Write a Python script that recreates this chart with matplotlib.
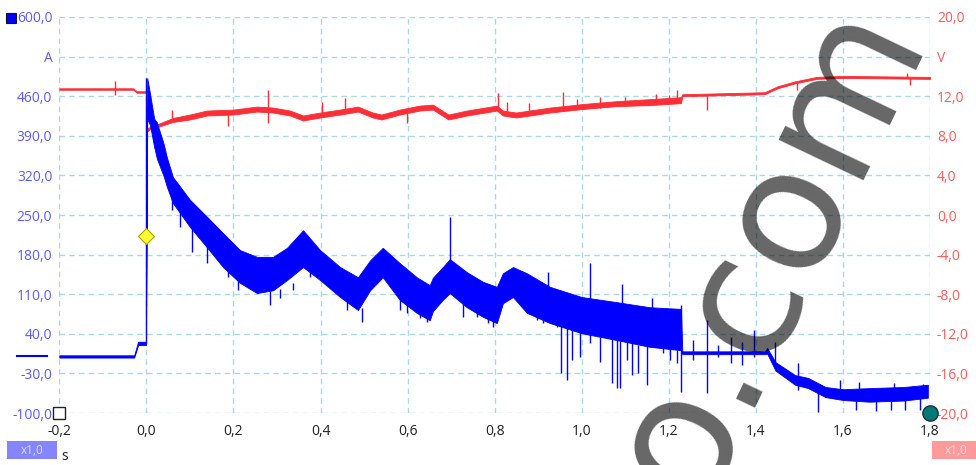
import matplotlib
matplotlib.use("Agg")
import matplotlib.pyplot as plt
from matplotlib.patches import Rectangle
from matplotlib.transforms import blended_transform_factory

# ---------------------------------------------------------------------------
# Channel A: current (A), drawn as min/max envelope of the captured trace
# ---------------------------------------------------------------------------
amp_t = [-0.200, -0.028, -0.019, -0.001, 0.002, 0.008, 0.018, 0.024, 0.040,
         0.047, 0.061, 0.100, 0.139, 0.176, 0.215, 0.254, 0.291, 0.323,
         0.360, 0.399, 0.445, 0.486, 0.514, 0.543, 0.582, 0.621, 0.651,
         0.658, 0.681, 0.697, 0.736, 0.773, 0.805, 0.819, 0.842, 0.874,
         0.927, 1.000, 1.080, 1.156, 1.228, 1.231, 1.421, 1.426, 1.445,
         1.490, 1.520, 1.560, 1.600, 1.660, 1.740, 1.795]
amp_hi = [2, 2, 26, 26, 492, 466, 420, 414, 375,
          352, 317, 277, 247, 218, 188, 176, 176, 192,
          223, 188, 158, 140, 170, 192, 165, 140, 126,
          139, 158, 172, 149, 132, 123, 147, 158, 147,
          123, 105, 96, 87, 84, 9, 9, 15, -10,
          -33, -38, -54, -58, -56, -54, -50]
amp_lo = [-2, -2, 20, 20, 420, 410, 370, 350, 318,
          300, 271, 229, 193, 158, 130, 112, 117, 135,
          158, 135, 105, 82, 117, 140, 100, 77, 64,
          80, 100, 112, 87, 70, 59, 94, 105, 77,
          59, 41, 29, 17, 11, 4, 4, 5, -25,
          -50, -56, -72, -77, -80, -78, -73]

# single-sample glitches: time, bottom, top
amp_spike_t = [0.000, 0.059, 0.077, 0.105, 0.139, 0.187, 0.210, 0.284, 0.307,
               0.337, 0.376, 0.461, 0.495, 0.582, 0.598, 0.628, 0.644, 0.698,
               0.727, 0.759, 0.784, 0.796, 0.897, 0.911, 0.922, 0.943, 0.952,
               0.966, 0.977, 0.995, 1.018, 1.042, 1.069, 1.081, 1.088, 1.092,
               1.104, 1.115, 1.129, 1.149, 1.161, 1.172, 1.186, 1.202, 1.218,
               1.229, 1.255, 1.287, 1.314, 1.342, 1.369, 1.395, 1.445, 1.496,
               1.542, 1.593, 1.629, 1.638, 1.677, 1.710, 1.717, 1.742, 1.777,
               1.783]
amp_spike_lo = [23, 259, 229, 185, 165, 140, 117, 91, 103,
                117, 140, 82, 61, 82, 77, 68, 61, 150,
                70, 70, 59, 52, 64, 59, 120, 52, -29,
                -42, -6, -1, 24, -10, -47, -56, -56, 90,
                -6, -33, -29, -50, 80, 17, 6, -6, -12,
                -63, -6, -65, -1, -12, -15, -1, -20, -59,
                -98, -70, -95, -70, -97, -95, -70, -95, -95,
                -70]
amp_spike_hi = [492, 280, 262, 228, 195, 160, 135, 115, 120,
                130, 150, 100, 85, 100, 95, 80, 70, 246,
                95, 80, 70, 65, 70, 68, 149, 60, 55,
                50, 50, 45, 165, 35, 30, 30, 30, 128,
                25, 25, 20, 20, 103, 20, 15, 15, 12,
                91, 29, 64, 20, 34, 25, 47, 25, -12,
                -60, -42, -70, -45, -75, -75, -47, -75, -72,
                -48]

# ---------------------------------------------------------------------------
# Channel B: voltage (V)
# ---------------------------------------------------------------------------
volt_t = [-0.200, -0.030, -0.022, -0.001, 0.002, 0.008, 0.030, 0.061, 0.100,
          0.139, 0.200, 0.254, 0.291, 0.330, 0.360, 0.399, 0.445, 0.486,
          0.520, 0.540, 0.582, 0.628, 0.658, 0.694, 0.736, 0.805, 0.819,
          0.849, 0.927, 1.000, 1.080, 1.156, 1.228, 1.231, 1.420, 1.450,
          1.490, 1.540, 1.600, 1.800]
volt_hi = [12.8, 12.8, 12.5, 12.5, 8.7, 8.9, 9.25, 9.8, 10.15,
           10.55, 10.65, 10.95, 10.85, 10.55, 10.05, 10.35, 10.65, 10.95,
           10.35, 10.15, 10.65, 11.05, 11.15, 10.15, 10.55, 11.05, 10.55,
           10.35, 10.85, 11.2, 11.5, 11.7, 11.9, 12.2, 12.4, 13.0,
           13.5, 13.95, 14.05, 13.95]
volt_lo = [12.65, 12.65, 12.35, 12.35, 8.45, 8.65, 8.95, 9.4, 9.65,
           10.05, 10.15, 10.45, 10.35, 10.05, 9.55, 9.85, 10.15, 10.45,
           9.85, 9.65, 10.15, 10.55, 10.65, 9.65, 10.05, 10.55, 10.05,
           9.85, 10.35, 10.7, 11.0, 11.1, 11.3, 12.0, 12.2, 12.8,
           13.3, 13.75, 13.85, 13.75]

volt_spike_t = [-0.072, 0.059, 0.187, 0.279, 0.403, 0.456, 0.598, 0.808,
                0.828, 0.880, 0.957, 0.990, 1.042, 1.100, 1.170, 1.200,
                1.218, 1.287, 1.494, 1.748, 1.753]
volt_spike_lo = [12.1, 9.6, 9.0, 9.3, 10.0, 10.2, 9.3, 10.6,
                 10.2, 10.5, 10.5, 10.8, 10.8, 11.0, 11.2, 11.3,
                 11.3, 10.6, 12.6, 13.8, 13.1]
volt_spike_hi = [13.5, 10.6, 10.4, 12.6, 11.4, 11.8, 10.4, 12.3,
                 11.4, 11.3, 12.4, 11.7, 11.9, 11.9, 12.2, 12.1,
                 12.6, 12.2, 13.3, 14.3, 13.8]

# ---------------------------------------------------------------------------
# Axis scales
# ---------------------------------------------------------------------------
time_ticks = [-0.2, 0.0, 0.2, 0.4, 0.6, 0.8, 1.0, 1.2, 1.4, 1.6, 1.8]
time_labels = ["-0,2", "0,0", "0,2", "0,4", "0,6", "0,8", "1,0", "1,2",
               "1,4", "1,6", "1,8"]
amp_ticks = [600, 530, 460, 390, 320, 250, 180, 110, 40, -30, -100]
amp_labels = ["600,0", "A", "460,0", "390,0", "320,0", "250,0", "180,0",
              "110,0", "40,0", "-30,0", "-100,0"]
volt_ticks = [20, 16, 12, 8, 4, 0, -4, -8, -12, -16, -20]
volt_labels = ["20,0", "V", "12,0", "8,0", "4,0", "0,0", "-4,0", "-8,0",
               "-12,0", "-16,0", "-20,0"]
trigger_amp = 213

# ---------------------------------------------------------------------------
# Theme
# ---------------------------------------------------------------------------
_BLUE = "#0000ff"
_RED = "#ff2d36"
_GRID = "#a9d8e6"
_ALABEL = "#5b5bff"
_VLABEL = "#ff5a5a"
_TLABEL = "#202020"

plt.rcParams["font.family"] = ["Open Sans", "DejaVu Sans"]

W, H = 976, 465
x0, x1, y0, y1 = 59.3, 930, 17, 413
rect = [x0 / W, 1 - y1 / H, (x1 - x0) / W, (y1 - y0) / H]

fig = plt.figure(figsize=(W / 100, H / 100), dpi=100)
fig.patch.set_facecolor("white")

# voltage axes underneath (carries the grid), current axes on top
axv = fig.add_axes(rect)
axa = fig.add_axes(rect)
axa.patch.set_visible(False)

for ax in (axv, axa):
    ax.set_xlim(-0.2, 1.8)
    for s in ax.spines.values():
        s.set_visible(False)
    ax.set_xticks(time_ticks)

axa.set_ylim(-100, 600)
axv.set_ylim(-20, 20)

axv.grid(True, color=_GRID, linestyle=(0, (4, 3)), linewidth=1.0)
axv.set_axisbelow(True)

axv.set_xticklabels(time_labels)
axa.tick_params(axis="x", labelbottom=False, length=0)
axv.tick_params(axis="x", length=0, pad=8, labelsize=10, labelcolor=_TLABEL)

axa.set_yticks(amp_ticks)
axa.set_yticklabels(amp_labels)
axa.tick_params(axis="y", length=0, pad=5, labelsize=10, labelcolor=_ALABEL)

axv.yaxis.tick_right()
axv.set_yticks(volt_ticks)
axv.set_yticklabels(volt_labels)
axv.tick_params(axis="y", length=0, pad=5, labelsize=10, labelcolor=_VLABEL)

# ---- voltage trace ----
axv.fill_between(volt_t, volt_lo, volt_hi, color=_RED, lw=0.6, zorder=3)
axv.vlines(volt_spike_t, volt_spike_lo, volt_spike_hi, color=_RED, lw=1.0,
           zorder=3)

# ---- current trace ----
axa.fill_between(amp_t, amp_lo, amp_hi, color=_BLUE, lw=0.6, zorder=3)
axa.vlines(amp_spike_t, amp_spike_lo, amp_spike_hi, color=_BLUE, lw=1.0,
           zorder=3)

# ---- markers: trigger, ruler handles ----
axa.plot([0.0], [trigger_amp], marker="D", ms=8, mfc="#ffff33",
         mec="#b0a000", mew=0.8, zorder=6, clip_on=False)
axa.plot([-0.2], [-100], marker="s", ms=9, mfc="white", mec="#222222",
         mew=1.0, zorder=6, clip_on=False)
axa.plot([1.8], [-100], marker="o", ms=11, mfc="#007a78", mec="#203030",
         mew=1.0, zorder=6, clip_on=False)

# channel A zero-offset marker left of the plot
tr = blended_transform_factory(fig.transFigure, axa.transData)
axa.plot([17 / W, 47 / W], [0, 0], color=_BLUE, lw=1.5, transform=tr,
         clip_on=False)

# channel A colour swatch, top left
fig.patches.append(Rectangle((6 / W, 1 - 23 / H), 10 / W, 10 / H,
                             transform=fig.transFigure, facecolor=_BLUE,
                             edgecolor="#101030", lw=0.8, zorder=5))

# ---- range / zoom boxes along the bottom ----
fig.patches.append(Rectangle((7 / W, 1 - 459 / H), 50 / W, 18 / H,
                             transform=fig.transFigure, facecolor="#8585ff",
                             lw=0))
fig.text(32 / W, 1 - 450 / H, "x1,0", color="#dcdcff", fontsize=8.5,
         ha="center", va="center")
fig.text(61 / W, 1 - 456 / H, "s", color=_TLABEL, fontsize=10,
         ha="left", va="center")
fig.patches.append(Rectangle((932 / W, 1 - 459 / H), 44 / W, 18 / H,
                             transform=fig.transFigure, facecolor="#ff9a9a",
                             lw=0))
fig.text(956 / W, 1 - 450 / H, "x1,0", color="#ffe0e0", fontsize=8.5,
         ha="center", va="center")

# ---- watermark ----
fig.text(769 / W, 1 - 250 / H, "o.com", rotation=64.5, rotation_mode="anchor",
         fontsize=124, family="DejaVu Sans", color="black", alpha=0.6,
         ha="center", va="center", zorder=10)

fig.savefig("out.png", dpi=100, facecolor="white")
